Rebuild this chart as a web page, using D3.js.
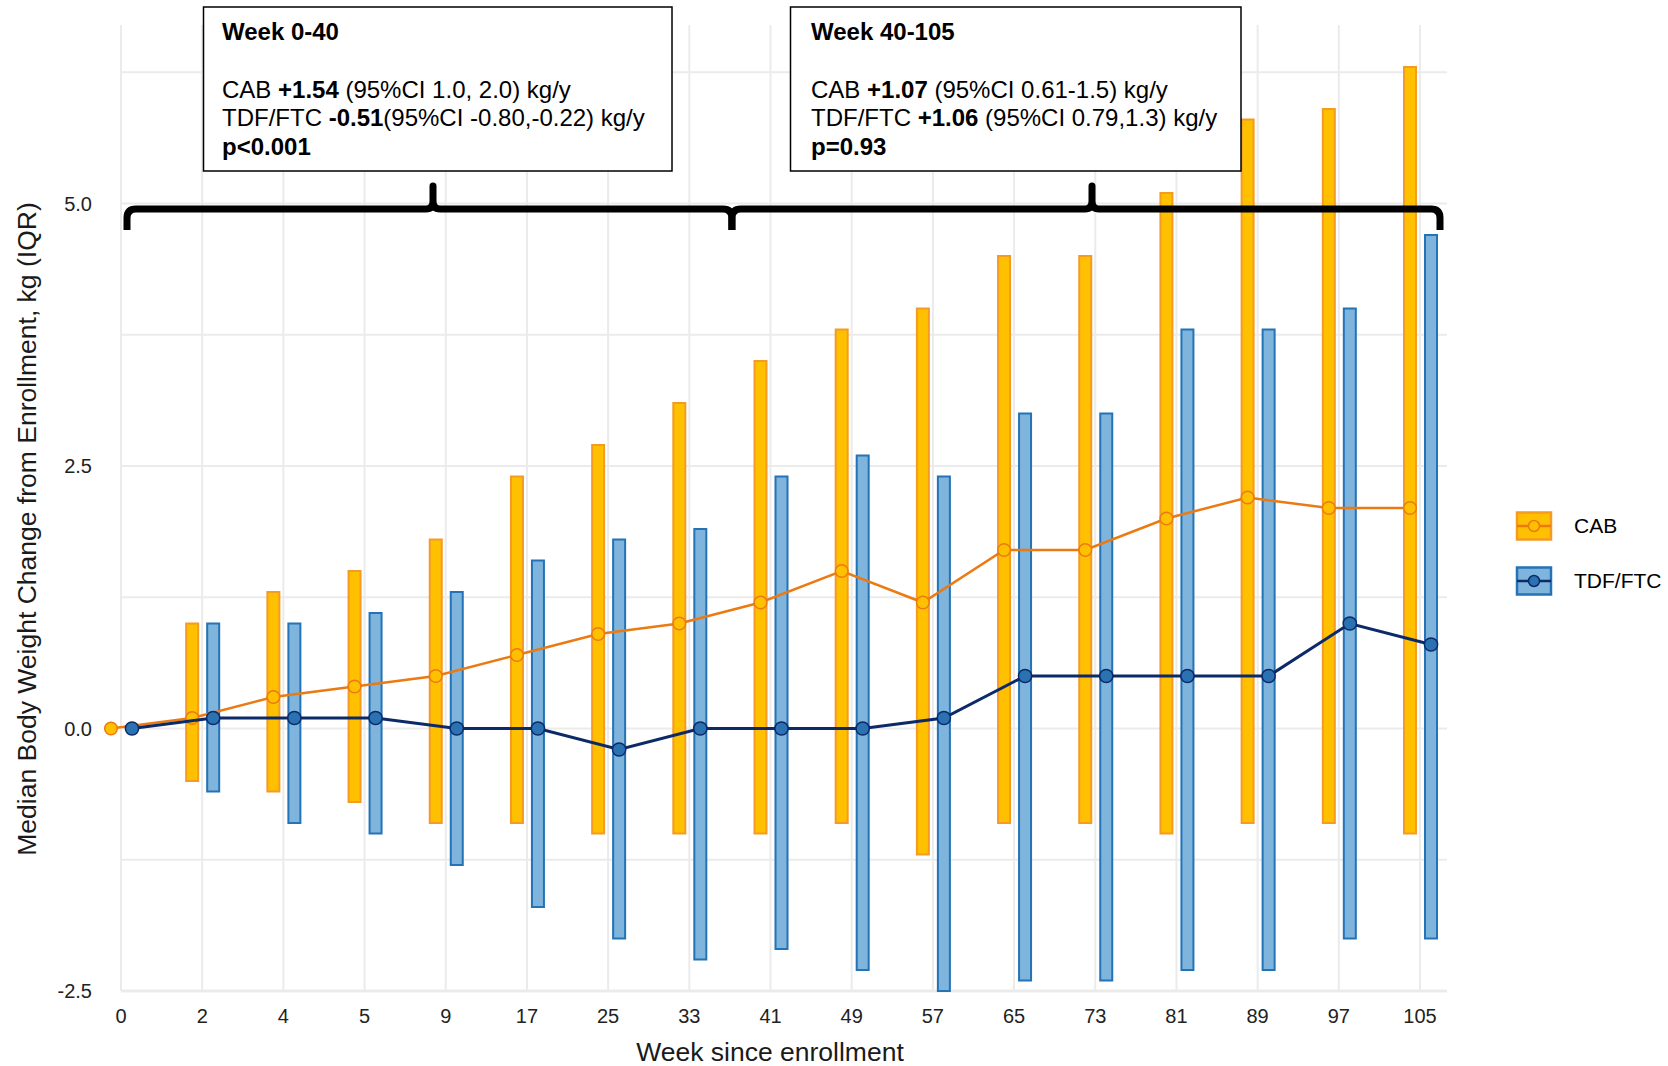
<!DOCTYPE html>
<html>
<head>
<meta charset="utf-8">
<script src="https://cdn.jsdelivr.net/npm/d3@7"></script>
<style>
  html, body { margin: 0; padding: 0; background: #fff; }
  svg { display: block; font-family: "Liberation Sans", Arial, sans-serif; }
</style>
</head>
<body>
<svg id="chart" width="1668" height="1066"></svg>
<script>
// ---- data ----
const weeks = ["0","2","4","5","9","17","25","33","41","49","57","65","73","81","89","97","105"];
const cabMedian = [0, 0.1, 0.3, 0.4, 0.5, 0.7, 0.9, 1.0, 1.2, 1.5, 1.2, 1.7, 1.7, 2.0, 2.2, 2.1, 2.1];
const cabQ1     = [0, -0.5, -0.6, -0.7, -0.9, -0.9, -1.0, -1.0, -1.0, -0.9, -1.2, -0.9, -0.9, -1.0, -0.9, -0.9, -1.0];
const cabQ3     = [0, 1.0, 1.3, 1.5, 1.8, 2.4, 2.7, 3.1, 3.5, 3.8, 4.0, 4.5, 4.5, 5.1, 5.8, 5.9, 6.3];
const tdfMedian = [0, 0.1, 0.1, 0.1, 0, 0, -0.2, 0, 0, 0, 0.1, 0.5, 0.5, 0.5, 0.5, 1.0, 0.8];
const tdfQ1     = [0, -0.6, -0.9, -1.0, -1.3, -1.7, -2.0, -2.2, -2.1, -2.3, -2.5, -2.4, -2.4, -2.3, -2.3, -2.0, -2.0];
const tdfQ3     = [0, 1.0, 1.0, 1.1, 1.3, 1.6, 1.8, 1.9, 2.4, 2.6, 2.4, 3.0, 3.0, 3.8, 3.8, 4.0, 4.7];
const seriesNames = ["CAB", "TDF/FTC"];
const yTickLabels = ["-2.5", "0.0", "2.5", "5.0"];
const yGridValues = [-2.5, -1.25, 0, 1.25, 2.5, 3.75, 5, 6.25];
const xTitle = "Week since enrollment";
const yTitle = "Median Body Weight Change from Enrollment, kg (IQR)";
const box1Lines = [
  [["Week 0-40", true]],
  [],
  [["CAB ", false], ["+1.54", true], [" (95%CI 1.0, 2.0) kg/y", false]],
  [["TDF/FTC ", false], ["-0.51", true], ["(95%CI -0.80,-0.22) kg/y", false]],
  [["p<0.001", true]]
];
const box2Lines = [
  [["Week 40-105", true]],
  [],
  [["CAB ", false], ["+1.07", true], [" (95%CI 0.61-1.5) kg/y", false]],
  [["TDF/FTC ", false], ["+1.06", true], [" (95%CI 0.79,1.3) kg/y", false]],
  [["p=0.93", true]]
];

// ---- styles ----
const C = {
  cabFill: "#FFC000", cabStroke: "#F59A23", cabLine: "#EB7A12",
  tdfFill: "#7FB4DD", tdfStroke: "#2373B6", tdfLine: "#0D2A68", tdfPoint: "#2A72B2",
  grid: "#EBEBEB", text: "#1a1a1a"
};

const svg = d3.select("#chart");
const pTop = 25, pBottom = 991, pLeft = 121, pRight = 1420, plotRight = 1447;

const x = d3.scalePoint().domain(weeks).range([pLeft, pRight]);
const y = d3.scaleLinear().domain([-2.5, 6.7]).range([pBottom, pTop]);

const offCab = -10, offTdf = 11, barW = 12;

// grid
const g = svg.append("g");
g.selectAll(".hg").data(yGridValues).enter().append("line")
  .attr("x1", pLeft).attr("x2", plotRight)
  .attr("y1", d => y(d)).attr("y2", d => y(d))
  .attr("stroke", C.grid).attr("stroke-width", d => d === -2.5 ? 3 : 2);
g.selectAll(".vg").data(weeks).enter().append("line")
  .attr("x1", d => x(d)).attr("x2", d => x(d))
  .attr("y1", pTop).attr("y2", pBottom)
  .attr("stroke", C.grid).attr("stroke-width", 2);

// axes labels
svg.append("g").selectAll("text").data(yTickLabels).enter().append("text")
  .attr("x", 92).attr("y", d => y(+d)).attr("dy", "0.35em")
  .attr("text-anchor", "end").attr("font-size", 20).attr("fill", "#222")
  .text(d => d);
svg.append("g").selectAll("text").data(weeks).enter().append("text")
  .attr("x", d => x(d)).attr("y", 1023)
  .attr("text-anchor", "middle").attr("font-size", 20).attr("fill", "#222")
  .text(d => d);
svg.append("text").attr("x", 770).attr("y", 1061).attr("text-anchor", "middle")
  .attr("font-size", 26.5).attr("fill", C.text).text(xTitle);
svg.append("text").attr("transform", "translate(27,529) rotate(-90)")
  .attr("text-anchor", "middle").attr("dy", "0.35em")
  .attr("font-size", 26.5).attr("fill", C.text).text(yTitle);

// bars
const idx = d3.range(weeks.length);
svg.append("g").selectAll("rect").data(idx).enter().append("rect")
  .attr("x", i => x(weeks[i]) + offCab - barW / 2).attr("width", barW)
  .attr("y", i => y(cabQ3[i])).attr("height", i => y(cabQ1[i]) - y(cabQ3[i]))
  .attr("fill", C.cabFill).attr("stroke", C.cabStroke).attr("stroke-width", 2);
svg.append("g").selectAll("rect").data(idx).enter().append("rect")
  .attr("x", i => x(weeks[i]) + offTdf - barW / 2).attr("width", barW)
  .attr("y", i => y(tdfQ3[i])).attr("height", i => y(tdfQ1[i]) - y(tdfQ3[i]))
  .attr("fill", C.tdfFill).attr("stroke", C.tdfStroke).attr("stroke-width", 2);

// lines + points
const lineCab = d3.line().x(i => x(weeks[i]) + offCab).y(i => y(cabMedian[i]));
const lineTdf = d3.line().x(i => x(weeks[i]) + offTdf).y(i => y(tdfMedian[i]));
svg.append("path").attr("d", lineCab(idx)).attr("fill", "none")
  .attr("stroke", C.cabLine).attr("stroke-width", 2.5);
svg.append("g").selectAll("circle").data(idx).enter().append("circle")
  .attr("cx", i => x(weeks[i]) + offCab).attr("cy", i => y(cabMedian[i])).attr("r", 6.3)
  .attr("fill", C.cabFill).attr("stroke", C.cabLine).attr("stroke-width", 1.5);
svg.append("path").attr("d", lineTdf(idx)).attr("fill", "none")
  .attr("stroke", C.tdfLine).attr("stroke-width", 3);
svg.append("g").selectAll("circle").data(idx).enter().append("circle")
  .attr("cx", i => x(weeks[i]) + offTdf).attr("cy", i => y(tdfMedian[i])).attr("r", 6.6)
  .attr("fill", C.tdfPoint).attr("stroke", C.tdfLine).attr("stroke-width", 1.5);

// braces
function brace(x0, x1, xm, yh, yEnd, yTip) {
  const r = 9;
  return `M${x0},${yEnd} L${x0},${yh + r} Q${x0},${yh} ${x0 + r},${yh}` +
    ` L${xm - 7},${yh} Q${xm},${yh} ${xm},${yh - 8} L${xm},${yTip}` +
    ` L${xm},${yh - 8} Q${xm},${yh} ${xm + 7},${yh}` +
    ` L${x1 - r},${yh} Q${x1},${yh} ${x1},${yh + r} L${x1},${yEnd}`;
}
const bStart = x("0") + 6, bMid = (x("33") + x("41")) / 2 + 2, bEnd = x("105") + 20;
svg.append("path").attr("d", brace(bStart, bMid, 433, 209, 230, 186))
  .attr("fill", "none").attr("stroke", "#000").attr("stroke-width", 7)
  .attr("stroke-linejoin", "round").attr("stroke-linecap", "butt");
svg.append("path").attr("d", brace(bMid, bEnd, 1092, 209, 230, 186))
  .attr("fill", "none").attr("stroke", "#000").attr("stroke-width", 7)
  .attr("stroke-linejoin", "round").attr("stroke-linecap", "butt");

// annotation boxes
function box(x0, x1, y0, y1, tx, lines) {
  svg.append("rect").attr("x", x0).attr("y", y0).attr("width", x1 - x0).attr("height", y1 - y0)
    .attr("fill", "#fff").attr("stroke", "#000").attr("stroke-width", 1.5);
  const baselines = [39.5, 68, 97.5, 126, 154.5];
  lines.forEach((ln, k) => {
    if (!ln.length) return;
    const t = svg.append("text").attr("x", tx).attr("y", baselines[k])
      .attr("font-size", 24).attr("fill", "#000").style("white-space", "pre");
    ln.forEach(([s, b]) => t.append("tspan").attr("font-weight", b ? "bold" : "normal").text(s));
  });
}
box(203.5, 672, 7, 171, 222, box1Lines);
box(790.5, 1241, 7, 171, 811, box2Lines);

// legend
const leg = svg.append("g");
const legendItems = [
  { name: seriesNames[0], fill: C.cabFill, stroke: C.cabStroke, line: C.cabLine, pt: C.cabFill, cy: 526 },
  { name: seriesNames[1], fill: C.tdfFill, stroke: C.tdfStroke, line: C.tdfLine, pt: C.tdfPoint, cy: 581 }
];
legendItems.forEach(it => {
  leg.append("rect").attr("x", 1517).attr("y", it.cy - 13.5).attr("width", 34).attr("height", 27)
    .attr("fill", it.fill).attr("stroke", it.stroke).attr("stroke-width", 2.5);
  leg.append("line").attr("x1", 1517).attr("x2", 1551).attr("y1", it.cy).attr("y2", it.cy)
    .attr("stroke", it.line).attr("stroke-width", 2.5);
  leg.append("circle").attr("cx", 1534).attr("cy", it.cy).attr("r", 5.5)
    .attr("fill", it.pt).attr("stroke", it.line).attr("stroke-width", 1.5);
  leg.append("text").attr("x", 1574).attr("y", it.cy).attr("dy", "0.35em")
    .attr("font-size", 21).attr("fill", "#000").text(it.name);
});
</script>
</body>
</html>
